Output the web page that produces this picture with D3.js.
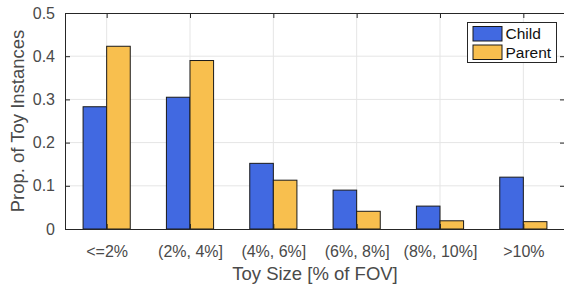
<!DOCTYPE html>
<head>
  <meta charset="utf-8">
  <script src="https://d3js.org/d3.v7.min.js"></script>
  <style>
    body { margin: 0; background: #fff; }
    text { font-family: "Liberation Sans", Arial, sans-serif; }
  </style>
</head>
<body>
  <div id="chart"></div>
</body>

<script>

// data
var categories = ["<=2%", "(2%, 4%]", "(4%, 6%]", "(6%, 8%]", "(8%, 10%]", ">10%"];
var seriesNames = ["Child", "Parent"];
var child  = [0.283, 0.305, 0.152, 0.090, 0.053, 0.120];
var parent = [0.423, 0.390, 0.113, 0.041, 0.019, 0.017];
var yTicks = [0, 0.1, 0.2, 0.3, 0.4, 0.5];

var colors = ["#4169e1", "#f8bf4e"];
var values = [child, parent];

var margin = {top: 13, right: -1, bottom: 55, left: 65},
    width = 564 - margin.left - margin.right,
    height = 284 - margin.top - margin.bottom;

var svg = d3.select("#chart")
  .append("svg")
    .attr("width", 564)
    .attr("height", 284)
  .append("g")
    .attr("transform", "translate(" + margin.left + "," + margin.top + ")");

// category positions like matlab: index 1..6 over [0.5, 6.5]
var x = d3.scaleLinear()
  .domain([0.5, categories.length + 0.5])
  .range([0, width]);

var y = d3.scaleLinear()
  .domain([0, 0.5])
  .range([height, 0]);

var barW = x(1.283) - x(1);

// grid lines
svg.append("g")
  .selectAll("line")
  .data(yTicks.slice(1, -1))
  .enter()
  .append("line")
    .attr("x1", 0).attr("x2", width)
    .attr("y1", function(d) { return y(d); })
    .attr("y2", function(d) { return y(d); })
    .style("stroke", "#e5e5e5");

svg.append("g")
  .selectAll("line")
  .data(categories)
  .enter()
  .append("line")
    .attr("x1", function(d, i) { return x(i + 1); })
    .attr("x2", function(d, i) { return x(i + 1); })
    .attr("y1", 0).attr("y2", height)
    .style("stroke", "#e5e5e5");

// bars
seriesNames.forEach(function(name, s) {
  svg.append("g")
    .selectAll("rect")
    .data(values[s])
    .enter()
    .append("rect")
      .attr("x", function(d, i) { return x(i + 1) + (s === 0 ? -barW : 0); })
      .attr("y", function(d) { return y(d); })
      .attr("width", barW)
      .attr("height", function(d) { return height - y(d); })
      .style("fill", colors[s])
      .style("stroke", "#1a1a1a")
      .style("stroke-width", 1);
});

// axes
var axisColor = "#262626";
var textColor = "#4a4a4a";

var yAxis = svg.append("g")
  .call(d3.axisLeft(y).tickValues(yTicks).tickFormat(d3.format("")).tickSizeInner(-5).tickSizeOuter(0).tickPadding(10));

var yAxisRight = svg.append("g")
  .attr("transform", "translate(" + width + ",0)")
  .call(d3.axisRight(y).tickValues(yTicks).tickFormat("").tickSizeInner(-5).tickSizeOuter(0));

var xAxis = svg.append("g")
  .attr("transform", "translate(0," + height + ")")
  .call(d3.axisBottom(x).tickValues(d3.range(1, categories.length + 1))
        .tickFormat(function(d) { return categories[d - 1]; })
        .tickSizeInner(-5).tickSizeOuter(0).tickPadding(16.5));

var xAxisTop = svg.append("g")
  .call(d3.axisTop(x).tickValues(d3.range(1, categories.length + 1))
        .tickFormat("").tickSizeInner(-5).tickSizeOuter(0));

[yAxis, yAxisRight, xAxis, xAxisTop].forEach(function(a) {
  a.selectAll("path, line").style("stroke", axisColor);
  a.selectAll("text").style("fill", textColor).style("font-size", "16px")
    .style("font-family", "'Liberation Sans', Arial, sans-serif");
});

// axis titles
svg.append("text")
  .attr("x", width / 2)
  .attr("y", 280 - margin.top)
  .attr("text-anchor", "middle")
  .style("font-size", "18.5px")
  .style("fill", textColor)
  .text("Toy Size [% of FOV]");

svg.append("text")
  .attr("transform", "rotate(-90)")
  .attr("x", -height / 2)
  .attr("y", 24 - margin.left)
  .attr("text-anchor", "middle")
  .style("font-size", "18.5px")
  .style("fill", textColor)
  .text("Prop. of Toy Instances");

// legend
var legend = svg.append("g")
  .attr("transform", "translate(" + (467.5 - margin.left) + "," + (22.5 - margin.top) + ")");

legend.append("rect")
  .attr("width", 89)
  .attr("height", 40)
  .style("fill", "#fff")
  .style("stroke", axisColor)
  .style("stroke-width", 1);

seriesNames.forEach(function(name, s) {
  legend.append("rect")
    .attr("x", 5.5)
    .attr("y", 4 + s * 18.5)
    .attr("width", 29)
    .attr("height", 14.5)
    .style("fill", colors[s])
    .style("stroke", "#1a1a1a");
  legend.append("text")
    .attr("x", 38)
    .attr("y", 16.5 + s * 18.5)
    .style("font-size", "15.5px")
    .style("fill", "#111")
    .text(name);
});

</script>
